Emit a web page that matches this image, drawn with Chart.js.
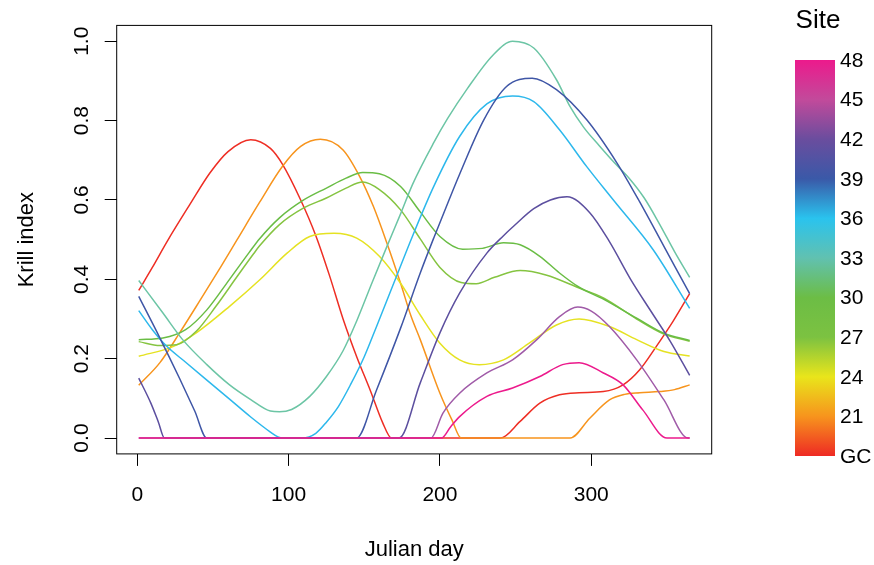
<!DOCTYPE html>
<html>
<head>
<meta charset="utf-8">
<title>Krill index by Julian day</title>
<script src="https://cdn.jsdelivr.net/npm/chart.js@4.4.1/dist/chart.umd.min.js"></script>
<style>
  html, body { margin: 0; padding: 0; background: #ffffff; }
  #wrap { width: 874px; height: 565px; position: relative; }
</style>
</head>
<body>
<div id="wrap"><canvas id="krill" width="874" height="565"></canvas></div>
<script>
// Sites, from the reference station (GC) up to site 48
const sites = ['GC', '21', '24', '27', '30', '33', '36', '39', '42', '45', '48'];
const siteColors = ['#EE2E24', '#F7941D', '#E5E222', '#85C441', '#6ABD45', '#6CC5A5',
                    '#2DB8EC', '#3F56A6', '#5C4F9F', '#A05BA8', '#EC1A8C'];

// Axis ticks
const xTicks = [0, 100, 200, 300];
const yTicks = [0, 0.2, 0.4, 0.6, 0.8, 1.0];

// Colour bar labels, top to bottom
const legendLabels = ['48', '45', '42', '39', '36', '33', '30', '27', '24', '21', 'GC'];

// Smoothed krill index per site (Julian day, index)
const dayGC   = [1, 10, 20, 35, 48, 60, 75, 88, 96, 108, 118, 127, 136, 145, 154, 162, 168, 240, 253, 266, 279, 292, 308, 321, 332, 343, 354, 365];
const krillGC = [0.372, 0.43, 0.497, 0.59, 0.668, 0.722, 0.752, 0.73, 0.69, 0.60, 0.51, 0.41, 0.30, 0.205, 0.12, 0.04, 0, 0, 0.042, 0.088, 0.109, 0.114, 0.117, 0.134, 0.172, 0.231, 0.294, 0.364];

const day21   = [1, 15, 28, 42, 55, 66, 81, 96, 108, 121, 136, 147, 156, 165, 174, 181, 187, 200, 208, 214, 286, 299, 312, 322, 332, 345, 355, 365];
const krill21 = [0.133, 0.19, 0.265, 0.35, 0.43, 0.5, 0.595, 0.685, 0.735, 0.753, 0.726, 0.659, 0.584, 0.491, 0.39, 0.306, 0.248, 0.113, 0.045, 0, 0, 0.05, 0.096, 0.11, 0.114, 0.117, 0.122, 0.134];

const day24   = [1, 24, 39, 61, 81, 99, 114, 130, 145, 160, 174, 187, 200, 213, 226, 242, 259, 277, 292, 312, 330, 348, 365];
const krill24 = [0.206, 0.231, 0.265, 0.332, 0.399, 0.466, 0.508, 0.516, 0.504, 0.458, 0.39, 0.31, 0.239, 0.197, 0.185, 0.197, 0.239, 0.285, 0.3, 0.281, 0.248, 0.218, 0.207];

const day27   = [1, 15, 26, 39, 52, 66, 77, 81, 94, 110, 125, 138, 149, 160, 174, 187, 200, 214, 224, 236, 253, 270, 292, 308, 330, 348, 365];
const krill27 = [0.243, 0.233, 0.235, 0.269, 0.332, 0.407, 0.465, 0.485, 0.538, 0.58, 0.605, 0.63, 0.645, 0.626, 0.575, 0.502, 0.43, 0.392, 0.389, 0.405, 0.422, 0.411, 0.378, 0.353, 0.3, 0.262, 0.244];

const day30   = [1, 17, 32, 46, 61, 74, 81, 94, 110, 125, 138, 149, 160, 174, 187, 200, 215, 228, 242, 253, 266, 279, 292, 308, 330, 348, 365];
const krill30 = [0.248, 0.252, 0.273, 0.323, 0.40, 0.468, 0.503, 0.555, 0.6, 0.63, 0.655, 0.669, 0.666, 0.634, 0.57, 0.508, 0.476, 0.478, 0.492, 0.487, 0.458, 0.416, 0.38, 0.35, 0.302, 0.264, 0.246];

const day33   = [1, 17, 30, 46, 61, 75, 88, 94, 102, 114, 125, 136, 145, 155, 165, 174, 182, 196, 205, 218, 235, 248, 262, 277, 286, 295, 305, 315, 325, 335, 345, 355, 365];
const krill33 = [0.397, 0.315, 0.248, 0.185, 0.134, 0.097, 0.068, 0.066, 0.072, 0.105, 0.155, 0.22, 0.295, 0.39, 0.483, 0.565, 0.64, 0.745, 0.805, 0.88, 0.965, 1.0, 0.983, 0.903, 0.835, 0.783, 0.738, 0.695, 0.655, 0.605, 0.54, 0.47, 0.405];

const day36   = [1, 10, 19, 32, 46, 61, 75, 88, 93, 96, 109, 118, 125, 133, 141, 150, 158, 170, 182, 196, 213, 231, 248, 262, 279, 297, 315, 341, 365];
const krill36 = [0.321, 0.273, 0.233, 0.191, 0.146, 0.098, 0.053, 0.015, 0.003, 0, 0, 0.012, 0.04, 0.08, 0.135, 0.205, 0.28, 0.395, 0.51, 0.635, 0.76, 0.842, 0.862, 0.848, 0.777, 0.684, 0.598, 0.474, 0.327];

const day39   = [1, 15, 28, 38, 46, 145, 158, 174, 187, 196, 206, 213, 229, 244, 261, 277, 297, 317, 332, 348, 365];
const krill39 = [0.357, 0.252, 0.15, 0.068, 0, 0, 0.12, 0.277, 0.416, 0.505, 0.6, 0.665, 0.802, 0.886, 0.907, 0.878, 0.802, 0.693, 0.595, 0.483, 0.364];

const day42   = [1, 9, 14, 18, 173, 187, 200, 213, 231, 242, 249, 262, 273, 284, 299, 312, 326, 339, 352, 365];
const krill42 = [0.151, 0.088, 0.04, 0, 0, 0.139, 0.265, 0.365, 0.466, 0.51, 0.535, 0.578, 0.6, 0.608, 0.568, 0.495, 0.40, 0.322, 0.245, 0.158];

const day45   = [1, 194, 202, 213, 231, 248, 264, 279, 291, 300, 312, 330, 348, 364, 365];
const krill45 = [0, 0, 0.063, 0.113, 0.164, 0.197, 0.248, 0.306, 0.33, 0.32, 0.281, 0.197, 0.096, 0, 0];

const day48   = [1, 201, 207, 213, 231, 248, 266, 281, 292, 308, 321, 334, 350, 365];
const krill48 = [0, 0, 0.028, 0.054, 0.105, 0.126, 0.155, 0.185, 0.19, 0.164, 0.134, 0.071, 0, 0];

const seriesDays  = [dayGC, day21, day24, day27, day30, day33, day36, day39, day42, day45, day48];
const seriesKrill = [krillGC, krill21, krill24, krill27, krill30, krill33, krill36, krill39, krill42, krill45, krill48];

// Colour bar stops, top (48) to bottom (GC)
const barColors = ['#EC1A8C', '#C24A9B', '#6A4D9E', '#3A59A8', '#2AC3EE', '#61C1B0',
                   '#6CBD45', '#7CC241', '#E9E51B', '#F7941D', '#EE2A24'];

const FONT = "'Liberation Sans', Arial, Helvetica, sans-serif";

const datasets = sites.map((site, i) => ({
  label: site,
  data: seriesDays[i].map((d, j) => ({ x: d, y: seriesKrill[i][j] })),
  borderColor: siteColors[i],
  backgroundColor: siteColors[i],
  borderWidth: 1.5,
  pointRadius: 0,
  pointHoverRadius: 0,
  fill: false,
  cubicInterpolationMode: 'monotone',
  order: sites.length - i
}));

// Plot frame, rotated y tick labels and the site colour bar
const frameAndLegend = {
  id: 'frameAndLegend',
  afterDraw(chart) {
    const { ctx, chartArea: a, scales } = chart;
    ctx.save();
    ctx.strokeStyle = '#000';
    ctx.lineWidth = 1;
    ctx.strokeRect(a.left, a.top, a.right - a.left, a.bottom - a.top);

    // y tick labels, reading bottom to top
    ctx.fillStyle = '#000';
    ctx.font = '21px ' + FONT;
    ctx.textAlign = 'center';
    ctx.textBaseline = 'alphabetic';
    yTicks.forEach(v => {
      const py = scales.y.getPixelForValue(v);
      ctx.save();
      ctx.translate(88, py);
      ctx.rotate(-Math.PI / 2);
      ctx.fillText(v.toFixed(1), 0, 0);
      ctx.restore();
    });

    // colour bar
    const bx = 795, bw = 40, bTop = 60, bBot = 456;
    const grad = ctx.createLinearGradient(0, bTop, 0, bBot);
    const n = legendLabels.length;
    barColors.forEach((c, k) => grad.addColorStop(k / (n - 1), c));
    ctx.fillStyle = grad;
    ctx.fillRect(bx, bTop, bw, bBot - bTop);

    ctx.fillStyle = '#000';
    ctx.font = '21px ' + FONT;
    ctx.textAlign = 'left';
    ctx.textBaseline = 'middle';
    legendLabels.forEach((lab, k) => {
      const py = bTop + k * (bBot - bTop) / (n - 1);
      ctx.fillText(lab, bx + 45, py + 1);
    });

    ctx.font = '26px ' + FONT;
    ctx.textAlign = 'center';
    ctx.fillText('Site', 818, 21);
    ctx.restore();
  }
};

new Chart(document.getElementById('krill'), {
  type: 'line',
  data: { datasets },
  plugins: [frameAndLegend],
  options: {
    responsive: false,
    animation: false,
    devicePixelRatio: 1,
    layout: { padding: { left: 0, top: 25.4, right: 162.3, bottom: 0 } },
    plugins: { legend: { display: false }, tooltip: { enabled: false }, title: { display: false } },
    scales: {
      x: {
        type: 'linear',
        min: -13.56,
        max: 379.56,
        afterBuildTicks: s => { s.ticks = xTicks.map(v => ({ value: v })); },
        afterFit: s => { s.height = 565 - 453.9; },
        ticks: {
          color: '#000',
          font: { family: FONT, size: 21 },
          padding: 17,
          maxRotation: 0,
          autoSkip: false,
          callback: v => String(v)
        },
        grid: { drawOnChartArea: false, drawTicks: true, tickLength: 12, color: '#000', lineWidth: 1 },
        border: { display: false },
        title: {
          display: true,
          text: 'Julian day',
          color: '#000',
          font: { family: FONT, size: 22 },
          padding: { top: 0, bottom: 2 }
        }
      },
      y: {
        type: 'linear',
        min: -0.04,
        max: 1.04,
        afterBuildTicks: s => { s.ticks = yTicks.map(v => ({ value: v })); },
        afterFit: s => { s.width = 116.7; },
        ticks: { display: false },
        grid: { drawOnChartArea: false, drawTicks: true, tickLength: 12, color: '#000', lineWidth: 1 },
        border: { display: false },
        title: {
          display: true,
          text: 'Krill index',
          color: '#000',
          font: { family: FONT, size: 22 },
          padding: { top: 14, bottom: 0 }
        }
      }
    }
  }
});
</script>
</body>
</html>
